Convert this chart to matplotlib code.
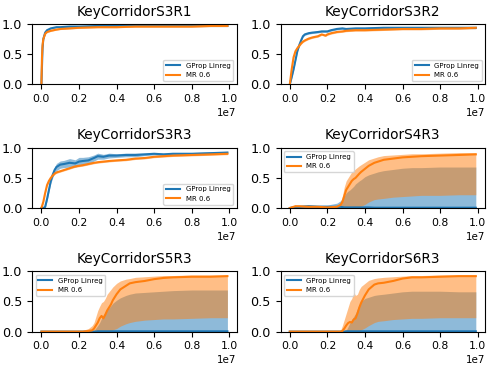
import matplotlib
matplotlib.use("Agg")
import matplotlib.pyplot as plt

# step counts in units of 1e7
s3r1_x = [0, 0.003, 0.006, 0.01, 0.02, 0.03, 0.05, 0.08, 0.1, 0.15, 0.2, 0.3, 0.4, 0.5, 0.6, 0.7, 0.8, 0.9, 0.99]
s3r1_gprop = [0, 0.3, 0.6, 0.75, 0.86, 0.9, 0.93, 0.95, 0.95, 0.96, 0.96, 0.97, 0.97, 0.97, 0.97, 0.97, 0.97, 0.97, 0.97]
s3r1_mr = [0, 0.45, 0.65, 0.75, 0.84, 0.87, 0.89, 0.91, 0.92, 0.93, 0.94, 0.95, 0.95, 0.96, 0.96, 0.96, 0.96, 0.97, 0.97]

s3r2_x = [0, 0.01, 0.02, 0.03, 0.04, 0.05, 0.06, 0.07, 0.08, 0.1, 0.12, 0.15, 0.17, 0.19, 0.2, 0.22,
          0.25, 0.28, 0.3, 0.35, 0.4, 0.5, 0.6, 0.7, 0.8, 0.9, 0.99]
s3r2_gprop = [0, 0.12, 0.25, 0.4, 0.55, 0.65, 0.73, 0.8, 0.83, 0.85, 0.86, 0.87, 0.88, 0.88, 0.88, 0.9,
              0.92, 0.93, 0.92, 0.93, 0.93, 0.94, 0.94, 0.94, 0.94, 0.94, 0.94]
s3r2_mr = [0, 0.25, 0.45, 0.55, 0.6, 0.64, 0.68, 0.71, 0.73, 0.76, 0.78, 0.8, 0.83, 0.81, 0.83, 0.85,
           0.87, 0.88, 0.89, 0.9, 0.9, 0.91, 0.92, 0.92, 0.93, 0.93, 0.94]

s3r3_x = [0, 0.01, 0.02, 0.03, 0.04, 0.05, 0.06, 0.07, 0.08, 0.1, 0.12, 0.15, 0.18, 0.2, 0.22, 0.25,
          0.28, 0.3, 0.33, 0.36, 0.4, 0.45, 0.5, 0.55, 0.6, 0.65, 0.7, 0.8, 0.9, 0.99]
s3r3_gprop = [0, 0, 0.02, 0.15, 0.3, 0.45, 0.55, 0.63, 0.68, 0.72, 0.73, 0.75, 0.74, 0.77, 0.78, 0.79,
              0.83, 0.86, 0.85, 0.87, 0.87, 0.88, 0.88, 0.89, 0.9, 0.89, 0.9, 0.9, 0.91, 0.92]
s3r3_gprop_spread = [0, 0, 0.02, 0.03, 0.03, 0.04, 0.05, 0.05, 0.06, 0.06, 0.06, 0.07, 0.06, 0.07, 0.06, 0.06,
                     0.05, 0.05, 0.04, 0.04, 0.03, 0.03, 0.03, 0.02, 0.02, 0.02, 0.02, 0.02, 0.02, 0.02]
s3r3_mr = [0, 0.1, 0.25, 0.38, 0.45, 0.5, 0.54, 0.57, 0.59, 0.61, 0.63, 0.66, 0.69, 0.7, 0.71, 0.73,
           0.75, 0.76, 0.77, 0.78, 0.79, 0.8, 0.82, 0.83, 0.85, 0.86, 0.87, 0.88, 0.89, 0.9]

s4r3_x = [0, 0.03, 0.05, 0.1, 0.15, 0.2, 0.25, 0.27, 0.28, 0.29, 0.3, 0.31, 0.32, 0.33, 0.34, 0.35,
          0.37, 0.38, 0.4, 0.42, 0.45, 0.47, 0.5, 0.55, 0.6, 0.65, 0.7, 0.8, 0.9, 0.99]
s4r3_gprop = [0, 0.02, 0.02, 0.03, 0.02, 0.02, 0.02, 0.02, 0.015, 0.01, 0.01, 0.01, 0.01, 0.01, 0.01, 0.01,
              0.01, 0.01, 0.01, 0.01, 0.005, 0.005, 0.005, 0.005, 0.005, 0.005, 0.005, 0.005, 0.005, 0.005]
s4r3_gprop_hi = [0, 0.03, 0.04, 0.05, 0.05, 0.05, 0.08, 0.12, 0.15, 0.2, 0.25, 0.28, 0.3, 0.33, 0.36, 0.4,
                 0.45, 0.47, 0.52, 0.55, 0.58, 0.6, 0.62, 0.64, 0.66, 0.67, 0.67, 0.68, 0.68, 0.68]
s4r3_mr = [0, 0.03, 0.03, 0.02, 0.02, 0.01, 0.02, 0.05, 0.1, 0.2, 0.3, 0.35, 0.4, 0.45, 0.48, 0.5,
           0.57, 0.6, 0.65, 0.7, 0.75, 0.77, 0.8, 0.82, 0.84, 0.85, 0.86, 0.87, 0.88, 0.89]
s4r3_mr_lo = [0, 0, 0, 0, 0, 0, 0, 0, 0, 0, 0, 0, 0, 0, 0, 0,
              0, 0.03, 0.06, 0.1, 0.14, 0.15, 0.16, 0.18, 0.19, 0.2, 0.21, 0.21, 0.22, 0.22]
s4r3_mr_hi = [0, 0.04, 0.04, 0.03, 0.03, 0.02, 0.03, 0.1, 0.2, 0.35, 0.45, 0.5, 0.55, 0.6, 0.62, 0.65,
              0.7, 0.72, 0.76, 0.8, 0.83, 0.85, 0.87, 0.88, 0.89, 0.9, 0.9, 0.91, 0.92, 0.92]

s5r3_x = [0, 0.1, 0.2, 0.22, 0.25, 0.27, 0.28, 0.29, 0.3, 0.31, 0.32, 0.33, 0.34, 0.35, 0.37, 0.38,
          0.4, 0.42, 0.45, 0.47, 0.5, 0.55, 0.6, 0.65, 0.7, 0.8, 0.9, 0.99]
s5r3_gprop = [0, 0, 0, 0, 0, 0, 0, 0, 0.005, 0.005, 0.005, 0.005, 0.005, 0.005, 0.005, 0.005,
              0.005, 0.005, 0.005, 0.005, 0.005, 0.005, 0.005, 0.005, 0.005, 0.005, 0.005, 0.005]
s5r3_gprop_hi = [0, 0, 0, 0, 0, 0, 0.02, 0.06, 0.1, 0.15, 0.22, 0.28, 0.32, 0.36, 0.43, 0.47,
                 0.52, 0.56, 0.6, 0.62, 0.64, 0.65, 0.66, 0.67, 0.68, 0.69, 0.69, 0.69]
s5r3_mr = [0, 0, 0, 0, 0.01, 0.02, 0.05, 0.1, 0.15, 0.22, 0.26, 0.22, 0.28, 0.35, 0.45, 0.52,
           0.62, 0.7, 0.76, 0.8, 0.82, 0.84, 0.87, 0.89, 0.9, 0.91, 0.91, 0.92]
s5r3_mr_lo = [0, 0, 0, 0, 0, 0, 0, 0, 0, 0, 0, 0, 0, 0, 0, 0.03,
              0.05, 0.09, 0.13, 0.15, 0.17, 0.19, 0.2, 0.21, 0.21, 0.22, 0.23, 0.23]
s5r3_mr_hi = [0, 0, 0, 0.02, 0.05, 0.1, 0.15, 0.25, 0.35, 0.42, 0.48, 0.5, 0.55, 0.62, 0.7, 0.74,
              0.8, 0.84, 0.87, 0.88, 0.9, 0.91, 0.92, 0.93, 0.93, 0.94, 0.94, 0.94]

s6r3_x = [0, 0.1, 0.2, 0.27, 0.28, 0.29, 0.3, 0.31, 0.32, 0.33, 0.34, 0.35, 0.36, 0.37, 0.38, 0.4,
          0.42, 0.45, 0.47, 0.5, 0.55, 0.6, 0.65, 0.7, 0.8, 0.9, 0.99]
s6r3_gprop = [0, 0, 0, 0, 0, 0, 0.005, 0.005, 0.005, 0.005, 0.005, 0.005, 0.005, 0.005, 0.005, 0.005,
              0.005, 0.005, 0.005, 0.005, 0.005, 0.005, 0.005, 0.005, 0.005, 0.005, 0.005]
s6r3_gprop_hi = [0, 0, 0, 0, 0, 0, 0.02, 0.08, 0.15, 0.2, 0.25, 0.3, 0.38, 0.45, 0.5, 0.55,
                 0.57, 0.6, 0.61, 0.62, 0.64, 0.66, 0.67, 0.67, 0.67, 0.66, 0.66]
s6r3_mr = [0, 0, 0, 0, 0.01, 0.05, 0.1, 0.14, 0.16, 0.15, 0.2, 0.22, 0.3, 0.4, 0.48, 0.6,
           0.7, 0.78, 0.8, 0.81, 0.84, 0.88, 0.9, 0.9, 0.91, 0.92, 0.92]
s6r3_mr_lo = [0, 0, 0, 0, 0, 0, 0, 0, 0, 0, 0, 0, 0, 0.01, 0.03, 0.06,
              0.1, 0.15, 0.17, 0.18, 0.2, 0.21, 0.22, 0.22, 0.23, 0.23, 0.23]
s6r3_mr_hi = [0, 0, 0, 0.02, 0.1, 0.2, 0.3, 0.4, 0.5, 0.55, 0.65, 0.6, 0.62, 0.7, 0.75, 0.8,
              0.85, 0.88, 0.89, 0.9, 0.91, 0.92, 0.93, 0.93, 0.94, 0.94, 0.94]

BLUE = "#1f77b4"
ORANGE = "#ff7f0e"


def scale(vals):
    return [v * 1e7 for v in vals]


def offset(vals, spread, sign):
    return [v + sign * s for v, s in zip(vals, spread)]


def draw(ax, title, x, gprop, g_lo, g_hi, mr, m_lo, m_hi, loc):
    xs = scale(x)
    ax.fill_between(xs, g_lo, g_hi, color=BLUE, alpha=0.5, linewidth=0)
    ax.fill_between(xs, m_lo, m_hi, color=ORANGE, alpha=0.5, linewidth=0)
    ax.plot(xs, gprop, color=BLUE, label="GProp Linreg")
    ax.plot(xs, mr, color=ORANGE, label="MR 0.6")
    ax.set_title(title, fontsize=9.8)
    ax.set_ylim(0, 1.0)
    ax.set_xticks([0, 0.2e7, 0.4e7, 0.6e7, 0.8e7, 1.0e7])
    ax.ticklabel_format(axis="x", style="sci", scilimits=(7, 7))
    ax.tick_params(axis="x", labelsize=7.8)
    ax.tick_params(axis="y", labelsize=9.2)
    ax.xaxis.get_offset_text().set_fontsize(7.4)
    ax.legend(loc=loc, fontsize=5)


fig, axes = plt.subplots(3, 2, figsize=(4.94, 3.66), dpi=100)
fig.subplots_adjust(left=0.065, right=0.982, top=0.934, bottom=0.094, wspace=0.214, hspace=1.05)

thin = [0.01] * len(s3r1_x)
draw(axes[0, 0], "KeyCorridorS3R1", s3r1_x,
     s3r1_gprop, offset(s3r1_gprop, thin, -1), offset(s3r1_gprop, thin, 1),
     s3r1_mr, offset(s3r1_mr, thin, -1), offset(s3r1_mr, thin, 1), "lower right")

thin = [0.015] * len(s3r2_x)
draw(axes[0, 1], "KeyCorridorS3R2", s3r2_x,
     s3r2_gprop, offset(s3r2_gprop, thin, -1), offset(s3r2_gprop, thin, 1),
     s3r2_mr, offset(s3r2_mr, thin, -1), offset(s3r2_mr, thin, 1), "lower right")

thin = [0.015] * len(s3r3_x)
draw(axes[1, 0], "KeyCorridorS3R3", s3r3_x,
     s3r3_gprop, offset(s3r3_gprop, s3r3_gprop_spread, -1), offset(s3r3_gprop, s3r3_gprop_spread, 1),
     s3r3_mr, offset(s3r3_mr, thin, -1), offset(s3r3_mr, thin, 1), "lower right")

draw(axes[1, 1], "KeyCorridorS4R3", s4r3_x,
     s4r3_gprop, [0] * len(s4r3_x), s4r3_gprop_hi,
     s4r3_mr, s4r3_mr_lo, s4r3_mr_hi, "upper left")

draw(axes[2, 0], "KeyCorridorS5R3", s5r3_x,
     s5r3_gprop, [0] * len(s5r3_x), s5r3_gprop_hi,
     s5r3_mr, s5r3_mr_lo, s5r3_mr_hi, "upper left")

draw(axes[2, 1], "KeyCorridorS6R3", s6r3_x,
     s6r3_gprop, [0] * len(s6r3_x), s6r3_gprop_hi,
     s6r3_mr, s6r3_mr_lo, s6r3_mr_hi, "upper left")

fig.savefig("out.png", dpi=100)
